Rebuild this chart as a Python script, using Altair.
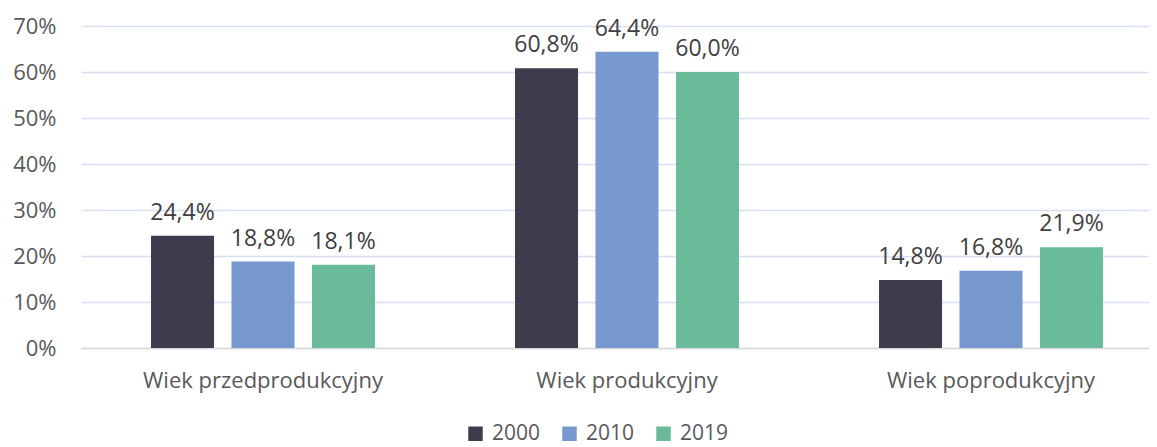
import altair as alt
import pandas as pd

categories = ["Wiek przedprodukcyjny", "Wiek produkcyjny", "Wiek poprodukcyjny"]
years = ["2000", "2010", "2019"]
values_2000 = [0.244, 0.608, 0.148]
values_2010 = [0.188, 0.644, 0.168]
values_2019 = [0.181, 0.600, 0.219]
colors = ["#3D3C4C", "#7899CF", "#69BB99"]

rows = []
for yr, vals in zip(years, [values_2000, values_2010, values_2019]):
    for cat, v in zip(categories, vals):
        rows.append({"kat": cat, "rok": yr, "v": v,
                     "lab": f"{v*100:.1f}%".replace(".", ",")})
df = pd.DataFrame(rows)

FONT = "Open Sans"
xscale = alt.Scale(range=[0, 1092], paddingInner=0, paddingOuter=0)

x = alt.X("kat:N", sort=categories, title=None, scale=xscale,
          axis=alt.Axis(labelAngle=0, labelFontSize=22, labelColor="#595959",
                        labelFont=FONT, labelPadding=22, labelLimit=0, ticks=False,
                        domainColor="#D9D9D9", domainWidth=1.5))
xo = alt.XOffset("rok:N", sort=years,
                 scale=alt.Scale(paddingInner=0.217, paddingOuter=0.87))
y = alt.Y("v:Q", title=None,
          scale=alt.Scale(domain=[0, 0.7], nice=False),
          axis=alt.Axis(format=".0%", values=[0, 0.1, 0.2, 0.3, 0.4, 0.5, 0.6, 0.7],
                        labelFontSize=22, labelColor="#595959", labelFont=FONT,
                        labelPadding=25, ticks=False, domain=False,
                        gridColor="#D6E0F3", gridWidth=1.5))

bars = alt.Chart(df).mark_bar().encode(
    x=x, xOffset=xo, y=y,
    color=alt.Color("rok:N", sort=years,
                    scale=alt.Scale(domain=years, range=colors),
                    legend=alt.Legend(title=None, orient="none", direction="horizontal",
                                      legendX=384, legendY=397,
                                      symbolType="square", symbolSize=210,
                                      symbolStrokeWidth=0,
                                      labelFontSize=21, labelColor="#595959",
                                      labelFont=FONT, columnPadding=18,
                                      labelOffset=6)),
)

labels = alt.Chart(df).mark_text(baseline="alphabetic", dy=-16, fontSize=23,
                                 font=FONT, color="#404040").encode(
    x=alt.X("kat:N", sort=categories, scale=xscale),
    xOffset=xo, y="v:Q", text="lab:N",
)

chart = (bars + labels).properties(
    width=1068, height=322,
    autosize=alt.AutoSizeParams(type="none"),
    padding={"left": 73, "top": 18, "right": 0, "bottom": 99},
).configure_view(stroke=None)

chart.save("out.html", embed_options={"renderer": "svg", "actions": False})
